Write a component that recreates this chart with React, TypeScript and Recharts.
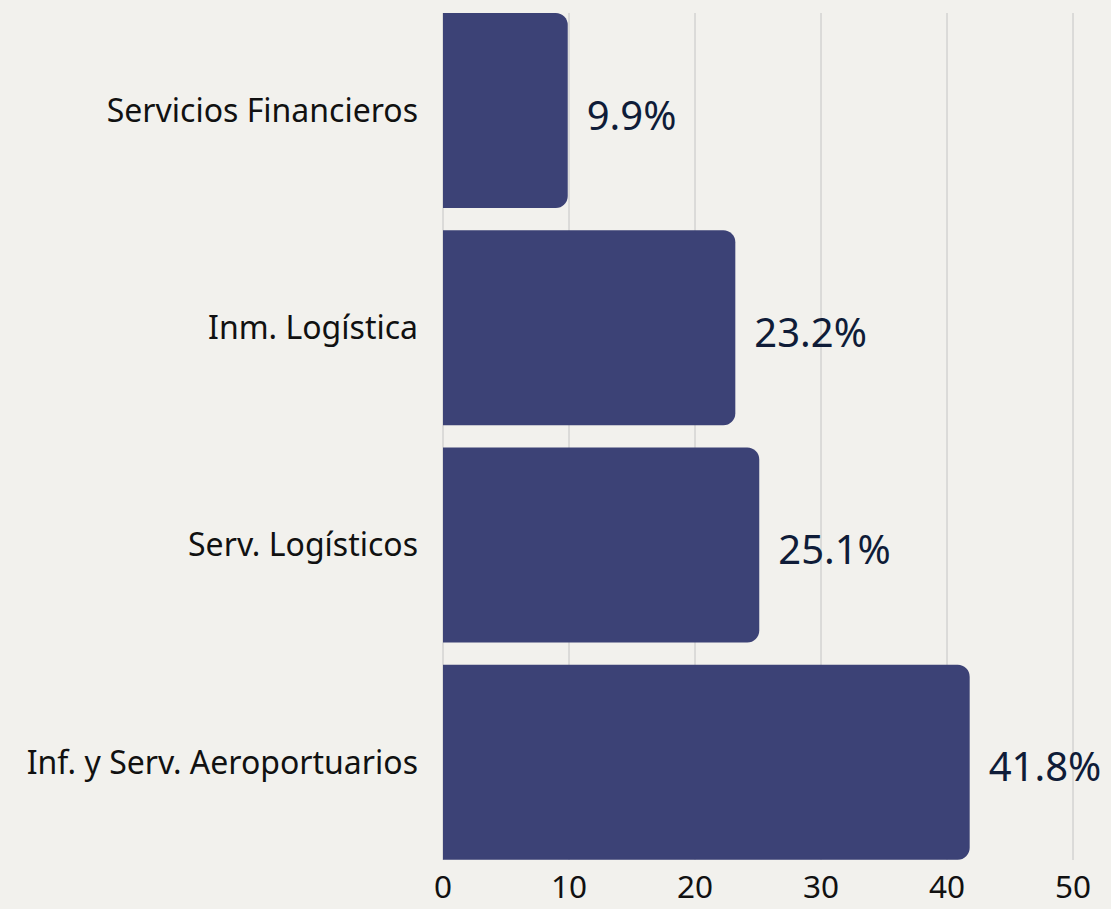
import React from 'react'
import { BarChart, Bar, XAxis, YAxis, CartesianGrid, LabelList } from 'recharts'

const categories = [
  'Servicios Financieros',
  'Inm. Logística',
  'Serv. Logísticos',
  'Inf. y Serv. Aeroportuarios',
]
const shares = [9.9, 23.2, 25.1, 41.8]
const xTicks = [0, 10, 20, 30, 40, 50]

const data = categories.map((name, i) => ({ name, value: shares[i] }))

const FONT = '"Noto Sans", Inter, Roboto, sans-serif'
const BAR_COLOR = '#3c4276'

export default function App() {
  return (
    <div
      style={{
        position: 'absolute',
        left: 0,
        top: 0,
        width: 1111,
        height: 909,
        background: '#f2f1ed',
        fontFamily: FONT,
      }}
    >
      <BarChart
        width={1111}
        height={909}
        data={data}
        layout="vertical"
        margin={{ top: 2, right: 38, bottom: 0, left: 0 }}
      >
        <CartesianGrid horizontal={false} stroke="#c4c4c4" y={13} height={847} />
        <XAxis
          type="number"
          domain={[0, 50]}
          ticks={xTicks}
          axisLine={false}
          tickLine={false}
          tickSize={0}
          tickMargin={5}
          height={38}
          tick={{ fontSize: 31.5, fill: '#111111', fontFamily: FONT }}
        />
        <YAxis
          type="category"
          dataKey="name"
          width={443}
          axisLine={false}
          tickLine={false}
          tickSize={0}
          tickMargin={25}
          tick={{ fontSize: 32, fill: '#111111', fontFamily: FONT }}
        />
        <Bar
          dataKey="value"
          fill={BAR_COLOR}
          barSize={195}
          radius={[0, 12, 12, 0]}
          isAnimationActive={false}
        >
          <LabelList
            dataKey="value"
            position="right"
            offset={19}
            dy={5}
            formatter={(v: number) => `${v.toFixed(1)}%`}
            style={{ fontSize: 40, fill: '#0f1c38', fontFamily: FONT }}
          />
        </Bar>
      </BarChart>
    </div>
  )
}
